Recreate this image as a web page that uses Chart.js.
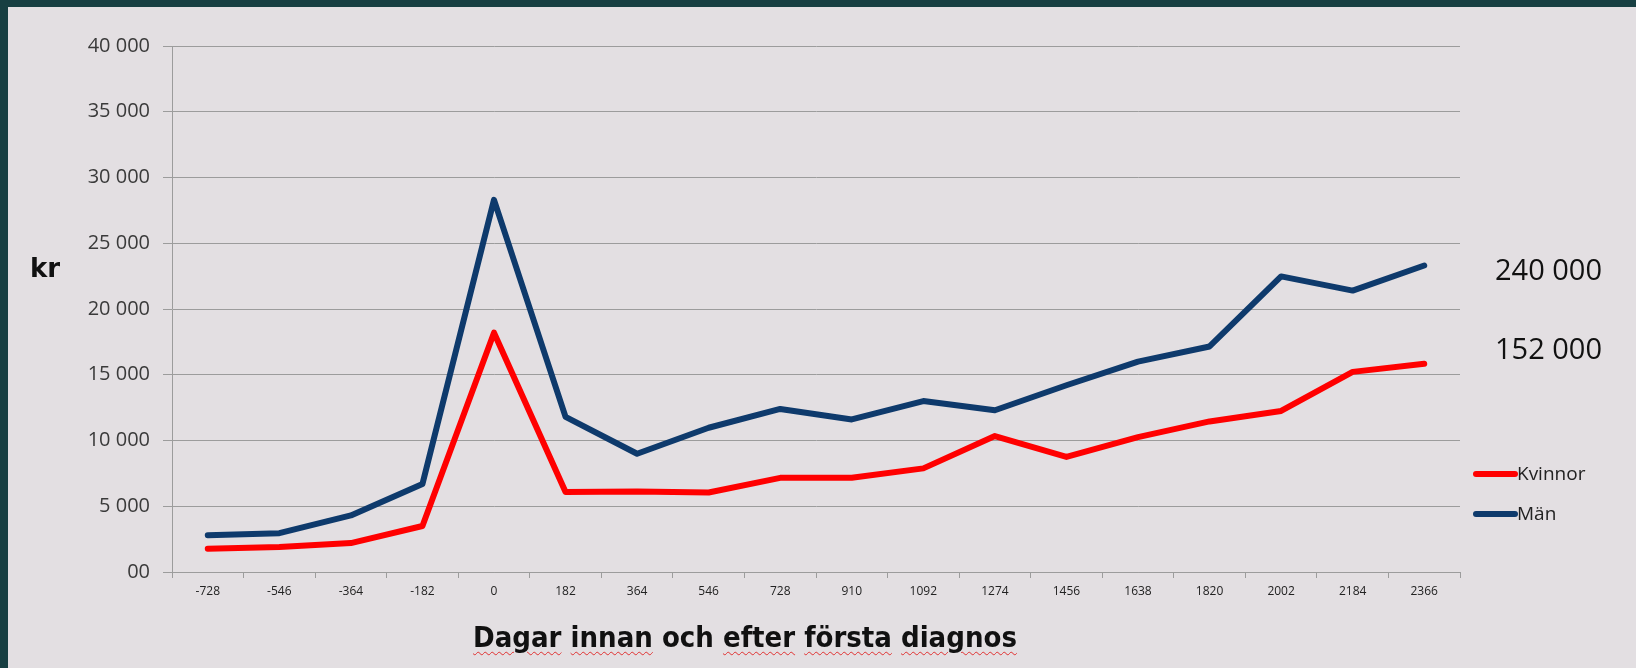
<!DOCTYPE html>
<html lang="sv">
<head>
    <meta charset="UTF-8">
    <title>Dagar innan och efter första diagnos</title>
    <script src="https://cdn.jsdelivr.net/npm/chart.js"></script>
    <style>
        html, body {
            margin: 0;
            padding: 0;
            width: 1636px;
            height: 668px;
            overflow: hidden;
            background: #173f42;
        }
        #chartBox {
            position: absolute;
            left: 0;
            top: 0;
            width: 1636px;
            height: 668px;
        }
        .note {
            position: absolute;
            white-space: nowrap;
            transform: translateY(-50%);
            color: #111;
        }
        #kr {
            left: 30px;
            top: 268px;
            font: bold 26px "DejaVu Sans", sans-serif;
        }
        .total {
            left: 1495px;
            font: 29px "Open Sans", sans-serif;
        }
        #xTitle {
            left: 745px;
            top: 637px;
            transform: translate(-50%, -50%);
            font: bold 29px "DejaVu Sans Condensed", "DejaVu Sans", sans-serif;
            letter-spacing: 0px;
        }
        #xTitle .sp {
            text-decoration: underline wavy #e03030;
            text-decoration-thickness: 1px;
            text-underline-offset: 4px;
        }
    </style>
</head>
<body>
    <div id="chartBox">
        <canvas id="costChart" width="1636" height="668"></canvas>
    </div>
    <div class="note" id="kr">kr</div>
    <div class="note total" style="top: 268px;">240 000</div>
    <div class="note total" style="top: 347px;">152 000</div>
    <div class="note" id="xTitle"><span class="sp">Dagar</span> <span class="sp">innan</span> och <span class="sp">efter</span> <span class="sp">första</span> <span class="sp">diagnos</span></div>

    <script>
        // days relative to first diagnosis
        const days = ['-728', '-546', '-364', '-182', '0', '182', '364', '546', '728',
                      '910', '1092', '1274', '1456', '1638', '1820', '2002', '2184', '2366'];

        // kr per period
        const kvinnor = [1770, 1900, 2200, 3500, 18200, 6080, 6130, 6050, 7160,
                         7160, 7880, 10340, 8750, 10260, 11450, 12250, 15220, 15830];
        const man = [2800, 2950, 4300, 6700, 28300, 11800, 8990, 10970, 12400,
                     11600, 13000, 12300, 14200, 16000, 17150, 22480, 21400, 23310];

        const seriesNames = ['Kvinnor', 'Män'];
        const seriesColors = ['#ff0000', '#0e3a6c'];

        const gridColor = '#9c9c9c';

        // dark frame + light panel behind everything
        const framePlugin = {
            id: 'frame',
            beforeDraw(chart) {
                const c = chart.ctx;
                c.save();
                c.fillStyle = '#173f42';
                c.fillRect(0, 0, chart.width, chart.height);
                c.fillStyle = '#e3dfe2';
                c.fillRect(8, 7, chart.width - 8, chart.height - 7);
                c.restore();
            }
        };

        // small legend on the right, drawn by hand
        const legendPlugin = {
            id: 'sideLegend',
            afterDraw(chart) {
                const c = chart.ctx;
                const ys = [474, 514];
                c.save();
                chart.data.datasets.forEach((ds, i) => {
                    c.strokeStyle = ds.borderColor;
                    c.lineWidth = 6;
                    c.lineCap = 'round';
                    c.beginPath();
                    c.moveTo(1476, ys[i]);
                    c.lineTo(1515, ys[i]);
                    c.stroke();
                    c.fillStyle = '#222';
                    c.font = '19px "Open Sans", sans-serif';
                    c.textBaseline = 'middle';
                    c.fillText(ds.label, 1517, ys[i] + 1);
                });
                c.restore();
            }
        };

        function fmt(v) {
            if (v === 0) return '00';
            return String(v).replace(/\B(?=(\d{3})+(?!\d))/g, ' ');
        }

        const ctx = document.getElementById('costChart').getContext('2d');
        new Chart(ctx, {
            type: 'line',
            data: {
                labels: days,
                datasets: [
                    {
                        label: seriesNames[0],
                        data: kvinnor,
                        borderColor: seriesColors[0],
                        borderWidth: 6,
                        pointRadius: 0,
                        tension: 0,
                        borderCapStyle: 'round',
                        borderJoinStyle: 'round'
                    },
                    {
                        label: seriesNames[1],
                        data: man,
                        borderColor: seriesColors[1],
                        borderWidth: 6,
                        pointRadius: 0,
                        tension: 0,
                        borderCapStyle: 'round',
                        borderJoinStyle: 'round'
                    }
                ]
            },
            options: {
                responsive: false,
                animation: false,
                events: [],
                layout: {
                    padding: { top: 46, right: 176, bottom: 0, left: 0 }
                },
                plugins: {
                    legend: { display: false },
                    tooltip: { enabled: false }
                },
                scales: {
                    x: {
                        offset: true,
                        grid: {
                            offset: true,
                            drawOnChartArea: false,
                            tickLength: 6,
                            color: gridColor
                        },
                        border: { color: gridColor },
                        ticks: {
                            color: '#222',
                            font: { family: 'Open Sans', size: 12 },
                            padding: 6,
                            maxRotation: 0,
                            autoSkip: false
                        },
                        afterFit(scale) { scale.height = 96; }
                    },
                    y: {
                        min: 0,
                        max: 40000,
                        grid: {
                            color: gridColor,
                            tickLength: 9
                        },
                        border: { color: gridColor },
                        ticks: {
                            stepSize: 5000,
                            color: '#3a3a3a',
                            font: { family: 'Open Sans', size: 20 },
                            padding: 13,
                            callback: v => fmt(v)
                        },
                        afterFit(scale) { scale.width = 172; }
                    }
                }
            },
            plugins: [framePlugin, legendPlugin]
        });
    </script>
</body>
</html>
